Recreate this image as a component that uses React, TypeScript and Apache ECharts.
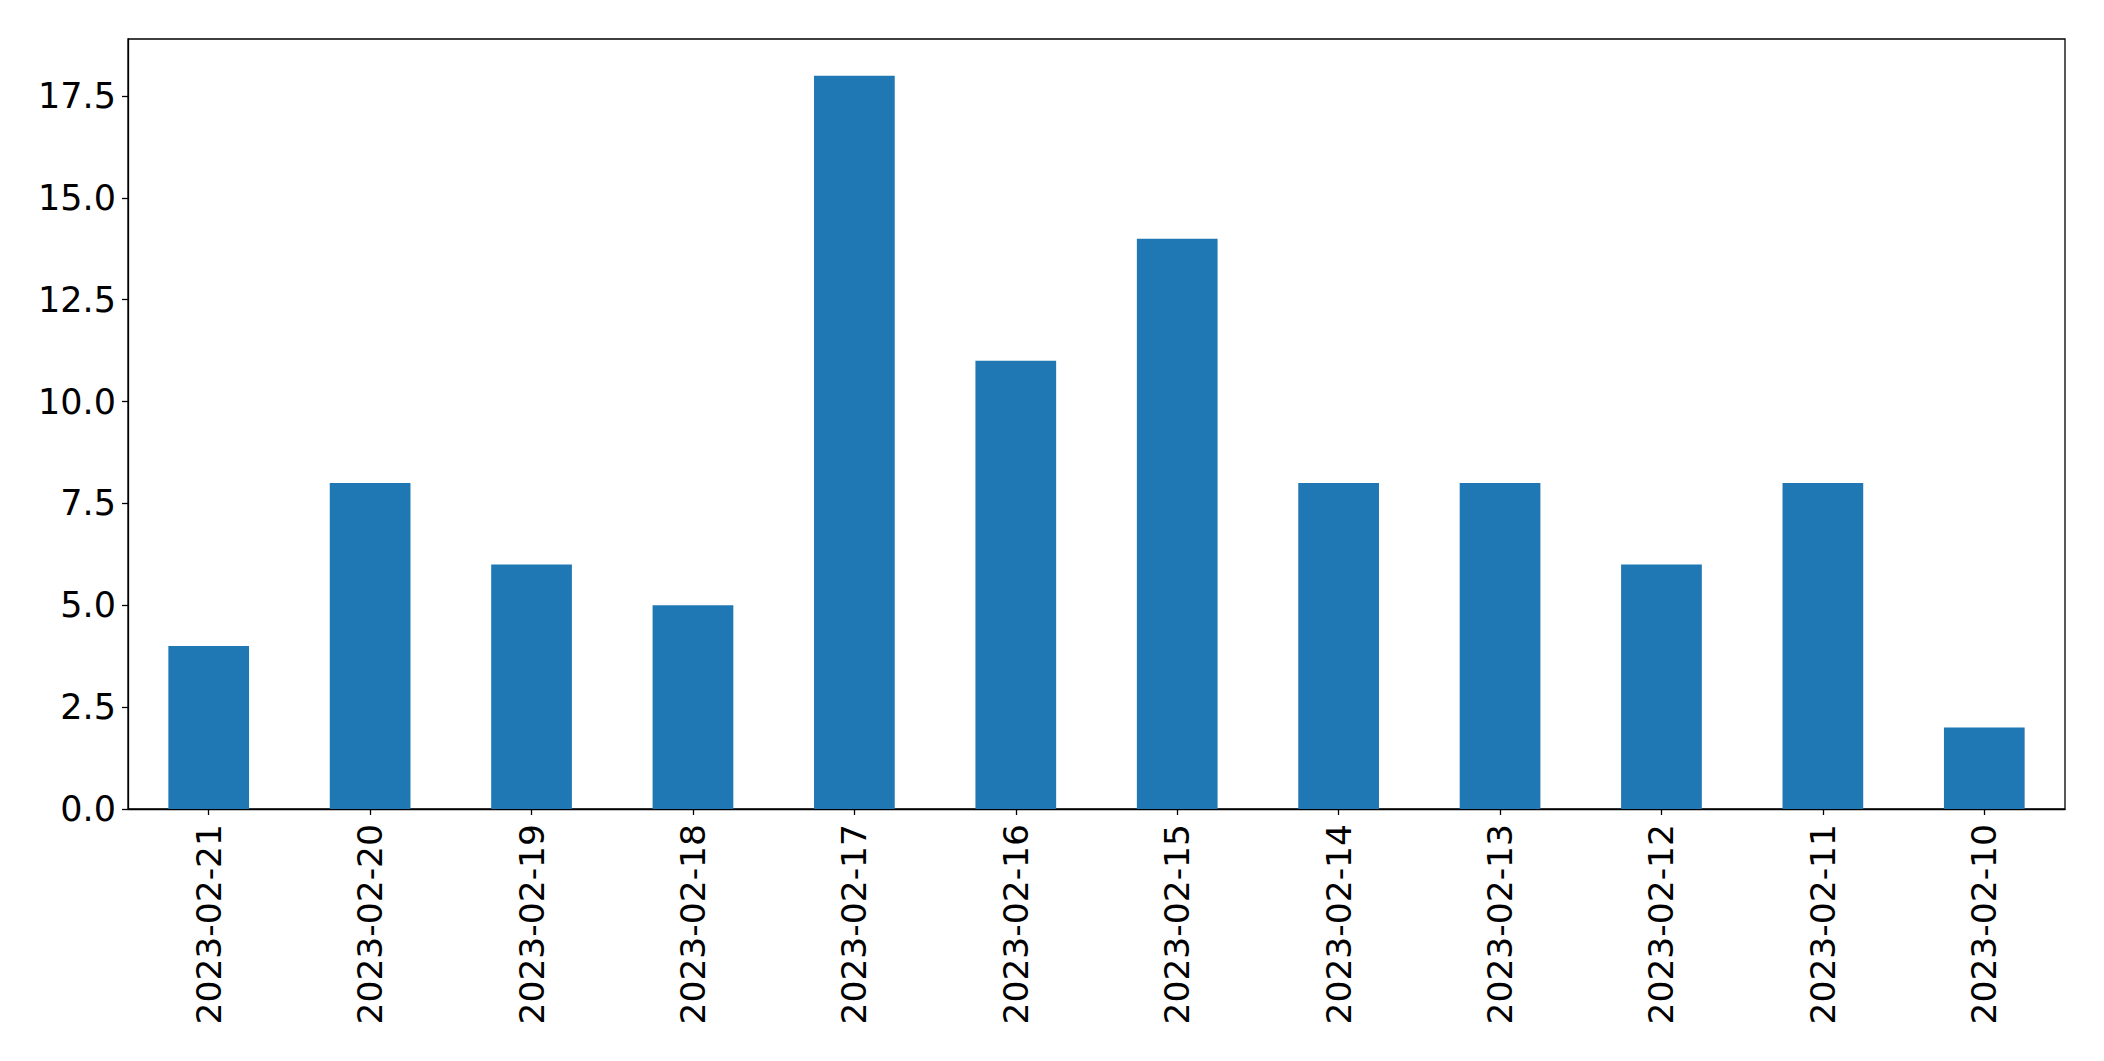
import React, { useEffect, useRef } from "react";
import * as echarts from "echarts";

const categories = [
  "2023-02-21", "2023-02-20", "2023-02-19", "2023-02-18", "2023-02-17", "2023-02-16",
  "2023-02-15", "2023-02-14", "2023-02-13", "2023-02-12", "2023-02-11", "2023-02-10",
];
const values = [4, 8, 6, 5, 18, 11, 14, 8, 8, 6, 8, 2];
const yTicks = [0, 2.5, 5, 7.5, 10, 12.5, 15, 17.5];
const yMax = 18.9;

export default function App() {
  const ref = useRef<HTMLDivElement>(null);
  useEffect(() => {
    const chart = echarts.init(ref.current!, undefined, { renderer: "svg" });
    const font = "DejaVu Sans";
    chart.setOption({
      animation: false,
      backgroundColor: "#ffffff",
      grid: {
        left: 128, top: 39, right: 39, bottom: 252,
        show: true, borderColor: "#000000", borderWidth: 1.3, backgroundColor: "transparent",
      },
      xAxis: {
        type: "category",
        data: categories,
        boundaryGap: true,
        axisLine: { show: true, lineStyle: { color: "#000", width: 1.3 } },
        axisTick: { show: true, alignWithLabel: true, length: 6, lineStyle: { color: "#000", width: 1.3 } },
        axisLabel: { rotate: 90, margin: 15, color: "#000", fontSize: 34.5, fontFamily: font, interval: 0 },
        splitLine: { show: false },
      },
      yAxis: {
        type: "value",
        min: 0,
        max: yMax,
        interval: 2.5,
        axisLine: { show: true, lineStyle: { color: "#000", width: 1.3 } },
        axisTick: { show: true, length: 6, customValues: yTicks, lineStyle: { color: "#000", width: 1.3 } },
        axisLabel: {
          color: "#000", fontSize: 35, fontFamily: font, margin: 12,
          customValues: yTicks,
          formatter: (v: number) => v.toFixed(1),
        },
        splitLine: { show: false },
      },
      series: [
        {
          type: "bar",
          data: values,
          barWidth: "50%",
          itemStyle: { color: "#1f77b4" },
        },
      ],
    });
    return () => chart.dispose();
  }, []);
  return (
    <div
      ref={ref}
      style={{ position: "fixed", left: 0, top: 0, width: 2104, height: 1061, background: "#fff" }}
    />
  );
}
